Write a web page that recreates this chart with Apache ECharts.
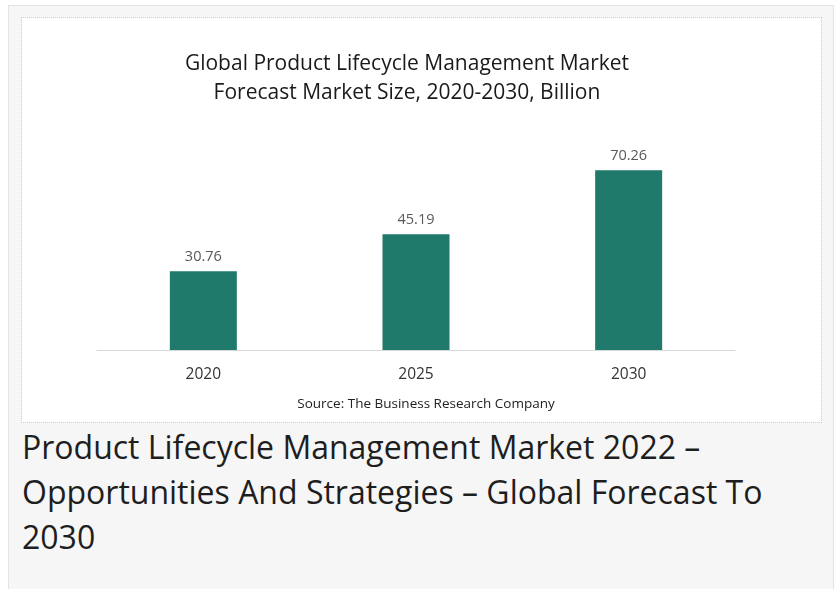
<!DOCTYPE html>
<html>
<head>
<meta charset="utf-8">
<script src="https://cdn.jsdelivr.net/npm/echarts@6/dist/echarts.min.js"></script>
<style>
	html, body { margin: 0; padding: 0; background: #ffffff; }
	#panel {
		position: absolute; left: 8px; top: 5px; width: 824px; height: 583px;
		background: #f6f6f6; border: 1px solid #e3e3e3; border-bottom: none;
	}
	#chart {
		position: absolute; left: 22px; top: 18px; width: 799px; height: 404px;
		background: #ffffff; outline: 1px dotted #cfcfcf;
	}
	#heading {
		position: absolute; left: 22px; top: 424px; width: 790px;
		font-family: "Open Sans", sans-serif; font-size: 32px; line-height: 45px;
		color: #1e1e1e; margin: 0; font-weight: normal;
	}
</style>
</head>
<body>
<div id="panel"></div>
<div id="chart"></div>
<h1 id="heading">Product Lifecycle Management Market 2022 – Opportunities And Strategies – Global Forecast To 2030</h1>
<script>
	// 数据
	var years = ["2020", "2025", "2030"];
	var marketSize = [30.76, 45.19, 70.26];

	var chart = echarts.init(document.getElementById("chart"));
	chart.setOption({
		animation: false,
		title: [{
			text: "Global Product Lifecycle Management Market\nForecast Market Size, 2020-2030, Billion",
			left: 380,
			top: 27,
			textAlign: "center",
			textStyle: {
				fontFamily: "Open Sans",
				fontSize: 21,
				fontWeight: "normal",
				color: "#1a1a1a",
				lineHeight: 29
			}
		}, {
			text: "Source: The Business Research Company",
			left: 399,
			top: 374,
			textAlign: "center",
			textStyle: {
				fontFamily: "Open Sans",
				fontSize: 13.5,
				fontWeight: "normal",
				color: "#222222"
			}
		}],
		grid: { left: 75, right: 86, top: 76, bottom: 72 },
		xAxis: {
			type: "category",
			data: years,
			axisLine: { lineStyle: { color: "#d9d9d9", width: 1 } },
			axisTick: { show: false },
			axisLabel: {
				margin: 17,
				fontFamily: "Open Sans",
				fontSize: 15.5,
				color: "#333333"
			}
		},
		yAxis: {
			type: "value",
			min: 0,
			max: 100,
			show: false
		},
		series: [{
			type: "bar",
			data: marketSize,
			barWidth: 67,
			itemStyle: { color: "#1f7a6b" },
			label: {
				show: true,
				position: "top",
				distance: 7,
				fontFamily: "Open Sans",
				fontSize: 14.5,
				color: "#595959"
			}
		}]
	});
</script>
</body>
</html>
